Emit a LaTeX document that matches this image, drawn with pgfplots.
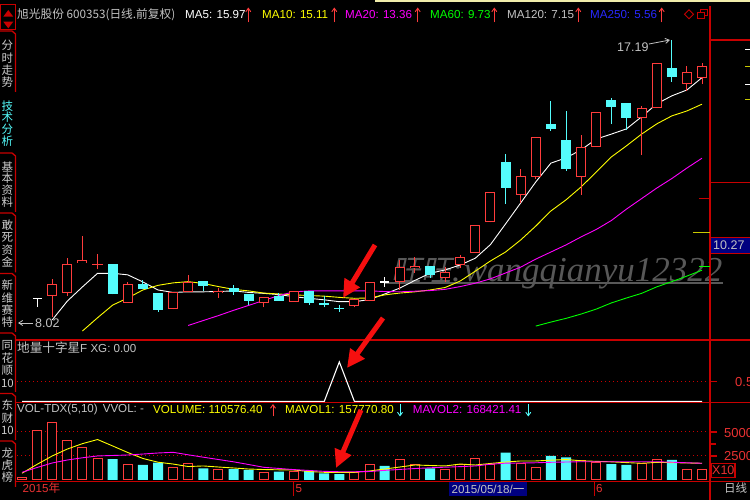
\documentclass[border=0pt]{standalone}
\usepackage{pgfplots}
\pgfplotsset{compat=1.18}
\usepackage{pgfplotstable}
\usepackage{fontspec}
\setmainfont{Liberation Sans}
\newfontfamily\cjk{Noto Sans CJK SC}
\newfontfamily\cjkslant[FakeSlant=0.22]{Noto Sans CJK SC}
\newfontfamily\wmserif{Liberation Serif}
\usetikzlibrary{arrows.meta}

\definecolor{cred}{RGB}{255,60,60}
\definecolor{cred2}{RGB}{235,50,50}
\definecolor{bred}{RGB}{200,0,0}
\definecolor{ared}{RGB}{245,15,15}
\definecolor{ccyan}{RGB}{84,252,252}
\definecolor{ltgray}{RGB}{195,195,195}
\definecolor{tabgray}{RGB}{205,205,205}
\definecolor{mayel}{RGB}{255,255,0}
\definecolor{dyel}{RGB}{200,200,0}
\definecolor{mamag}{RGB}{255,0,255}
\definecolor{magrn}{RGB}{0,255,0}
\definecolor{mablue}{RGB}{40,40,255}
\definecolor{navy}{RGB}{0,0,128}
\definecolor{wmgray}{RGB}{88,88,88}
\definecolor{paley}{RGB}{240,236,170}

% candles: index, open, high, low, close
\pgfplotstableread{
i o h l c
2 8.90 9.44 8.22 9.27
3 8.98 10.12 8.90 9.93
4 9.95 10.84 9.95 10.06
7 8.68 9.36 8.68 9.27
10 8.46 9.01 8.46 9.01
11 9.03 9.58 9.03 9.36
13 9.00 9.14 8.84 9.06
16 8.66 8.87 8.53 8.87
18 8.71 9.07 8.71 9.07
22 8.57 8.79 8.53 8.79
23 8.73 9.36 8.73 9.36
25 9.36 10.06 9.09 9.83
26 9.79 10.15 9.65 9.88
28 9.49 9.82 9.36 9.68
29 9.90 10.22 9.80 10.15
30 10.28 11.20 10.28 11.20
31 11.28 12.27 11.28 12.27
33 12.17 13.00 11.90 12.78
34 12.74 14.04 12.69 14.04
37 12.76 14.11 12.17 13.71
38 13.73 14.85 13.73 14.85
41 14.65 15.05 13.46 14.98
42 15.00 16.44 15.00 16.44
44 15.76 16.35 15.55 16.14
45 15.95 16.44 15.76 16.35
}\redT

\pgfplotstableread{
i o h l c
5 9.92 10.25 9.76 9.92
}\redD

\pgfplotstableread{
i o h l c
6 9.93 9.93 8.95 8.95
8 9.28 9.41 9.12 9.12
9 8.98 8.98 8.39 8.44
12 9.38 9.38 9.07 9.23
14 9.14 9.25 8.93 9.01
15 8.96 8.96 8.60 8.74
17 8.90 9.00 8.74 8.74
19 9.07 9.07 8.60 8.66
20 8.64 8.90 8.53 8.64
21 8.50 8.60 8.39 8.50
27 9.87 9.87 9.48 9.58
32 13.23 13.50 11.88 12.38
35 14.47 15.21 14.25 14.32
36 13.95 14.89 12.96 13.00
39 15.25 15.30 14.46 15.03
40 15.16 15.16 14.27 14.65
43 16.27 17.19 15.84 15.98
}\cyanT

\pgfplotstableread{
i o h l c
1 8.82 8.82 8.54 8.82
24 9.36 9.52 9.20 9.36
}\whiteT

\pgfplotstableread{
i ma5 ma10 ma20 ma60
2 8.12 nan nan nan
3 8.73 nan nan nan
4 9.19 7.76 nan nan
5 9.63 8.19 nan nan
6 9.63 8.60 nan nan
7 9.58 8.83 nan nan
8 9.35 9.09 nan nan
9 9.09 9.24 nan nan
10 9.01 9.32 nan nan
11 9.03 9.36 7.94 nan
12 9.03 9.30 8.10 nan
13 9.04 9.20 8.26 nan
14 9.06 9.11 8.43 nan
15 9.01 9.06 8.59 nan
16 8.98 8.99 8.75 nan
17 8.94 8.96 8.91 nan
18 8.87 8.93 9.03 nan
19 8.82 8.91 9.06 nan
20 8.77 8.89 9.06 nan
21 8.71 8.85 9.06 nan
22 8.71 8.82 9.06 nan
23 8.78 8.83 9.06 nan
24 8.96 8.93 9.04 nan
25 9.15 8.99 9.03 nan
26 9.40 9.03 9.05 nan
27 9.63 9.09 9.07 nan
28 9.74 9.17 9.11 nan
29 9.90 9.38 9.20 nan
30 10.12 9.70 9.31 nan
31 10.56 10.03 9.45 nan
32 11.23 10.32 9.64 nan
33 11.91 10.71 9.83 nan
34 12.59 11.16 10.09 7.92
35 13.20 11.65 10.32 8.05
36 13.37 12.01 10.55 8.17
37 13.63 12.43 10.81 8.31
38 13.98 12.91 11.05 8.47
39 14.14 13.40 11.34 8.67
40 14.31 13.76 11.71 8.83
41 14.70 14.14 12.05 8.98
42 15.12 14.47 12.39 9.19
43 15.38 14.73 12.70 9.36
44 15.57 14.89 13.04 9.54
45 15.97 15.11 13.36 9.73
}\maT

\pgfplotstableread{
i v
0 280
1 5200
2 6000
3 4090
4 3400
5 2260
7 1560
10 1320
11 1740
13 1110
16 800
18 860
22 760
23 1630
25 2080
26 1660
28 1040
29 1630
30 2260
31 1560
33 1740
34 1320
37 2010
38 1800
41 1740
42 2080
44 1110
45 1110
}\volR

\pgfplotstableread{
i v
6 2180
8 1560
9 1800
12 1220
14 1140
15 1040
17 860
19 940
20 700
21 620
24 1460
27 1220
32 2840
35 2500
36 2360
39 1660
40 1560
43 2080
}\volC

\pgfplotstableread{
i m1 m2
0 700 800
1 1630 1300
2 2500 1770
3 3220 2080
4 3780 2310
5 4210 2500
6 3540 2550
7 2860 2600
8 2240 2700
9 1850 2810
10 1660 2880
11 1400 2620
12 1460 2370
13 1350 2130
14 1250 1890
15 1140 1610
16 1090 1320
17 1060 1200
18 1040 1080
19 880 990
20 800 900
21 800 860
22 800 860
23 940 880
24 1140 1000
25 1350 1100
26 1560 1190
27 1510 1270
28 1460 1330
29 1660 1390
30 1560 1460
31 1720 1640
32 1870 1750
33 1980 1770
34 1980 1790
35 2060 1840
36 2130 1870
37 2000 1900
38 1940 1900
39 1890 1900
40 1810 1900
41 1740 1900
42 1830 1900
43 1810 1850
44 1770 1790
45 1740 1740
}\mavT

\pgfplotsset{
 wick/.style={draw=none, mark=none, forget plot, error bars/.cd, y dir=plus, y explicit, error mark=none, error bar style={draw=#1, line width=1pt, solid}},
 body/.style 2 args={draw=none, mark=none, forget plot, error bars/.cd, y dir=both, y explicit, error mark=none, error bar style={draw=#1, line width=#2, solid}},
 panel/.style={anchor=south west, scale only axis, width=693pt, xmin=-0.331, xmax=45.53, hide axis},
}

\begin{document}
\begin{tikzpicture}
\useasboundingbox (0,0) rectangle (750pt,500pt);
\clip (0,0) rectangle (750pt,500pt);
\fill[black] (0,0) rectangle (750pt,500pt);

% watermark (behind everything)
\begin{scope}[x=1pt,y=-1pt,shift={(0pt,500pt)}]
 \node[anchor=base west, inner sep=0pt, text=wmgray, font=\wmserif\itshape\fontsize{35}{38}\selectfont] at (391,281.7) {{\cjkslant\fontsize{30}{34}\selectfont 旺旺}:\hspace{1pt}wangqianyu12322};
 \draw[wmgray, line width=1.5pt] (385,283) -- (723,283);
\end{scope}

% ===== main price panel =====
\begin{axis}[panel, at={(17pt,160pt)}, height=322pt, ymin=7.469, ymax=17.903, unbounded coords=jump]
 \addplot[white, line width=0.9pt, mark=none] table[x=i,y=ma5] {\maT};
 \addplot[mayel, line width=0.9pt, mark=none] table[x=i,y=ma10] {\maT};
 \addplot[mamag, line width=0.9pt, mark=none] table[x=i,y=ma20] {\maT};
 \addplot[magrn, line width=0.9pt, mark=none] table[x=i,y=ma60] {\maT};
 % wicks
 \addplot[wick=cred] table[x=i,y=l,y error expr={\thisrow{h}-\thisrow{l}}] {\redT};
 \addplot[wick=cred] table[x=i,y=l,y error expr={\thisrow{h}-\thisrow{l}}] {\redD};
 \addplot[wick=ccyan] table[x=i,y=l,y error expr={\thisrow{h}-\thisrow{l}}] {\cyanT};
 \addplot[wick=white] table[x=i,y=l,y error expr={\thisrow{h}-\thisrow{l}}] {\whiteT};
 % bodies
 \addplot[body={cred}{10pt}] table[x=i,y expr={(\thisrow{o}+\thisrow{c})/2},y error expr={max(abs(\thisrow{c}-\thisrow{o})/2,0.016)}] {\redT};
 \addplot[body={black}{8pt}] table[x=i,y expr={(\thisrow{o}+\thisrow{c})/2},y error expr={abs(\thisrow{c}-\thisrow{o})/2-0.0324}] {\redT};
 \addplot[body={cred}{11pt}] table[x=i,y expr={(\thisrow{o}+\thisrow{c})/2},y error expr={max(abs(\thisrow{c}-\thisrow{o})/2,0.022)}] {\redD};
 \addplot[body={ccyan}{10pt}] table[x=i,y expr={(\thisrow{o}+\thisrow{c})/2},y error expr={max(abs(\thisrow{c}-\thisrow{o})/2,0.016)}] {\cyanT};
 \addplot[body={white}{9pt}] table[x=i,y expr={(\thisrow{o}+\thisrow{c})/2},y error expr={max(abs(\thisrow{c}-\thisrow{o})/2,0.02)}] {\whiteT};
\end{axis}

% ===== indicator panel =====
\begin{axis}[panel, at={(17pt,98pt)}, height=62pt, ymin=-0.0126, ymax=1.553]
 \addplot[bred, line width=1pt, dash pattern=on 1pt off 3pt, mark=none] coordinates {(-0.331,0.5) (45.53,0.5)};
 \addplot[white, line width=1.1pt, mark=none] coordinates {(0,0) (20,0) (21,1) (22,0) (45,0)};
\end{axis}

% ===== volume panel =====
\begin{axis}[panel, at={(17pt,18pt)}, height=80pt, ymin=-208, ymax=8112]
 \addplot[bred, line width=1pt, dash pattern=on 1pt off 3pt, mark=none] coordinates {(-0.331,2500) (45.53,2500)};
 \addplot[bred, line width=1pt, dash pattern=on 1pt off 3pt, mark=none] coordinates {(-0.331,5000) (45.53,5000)};
 \addplot[ybar, bar width=9pt, bar shift=0pt, draw=cred, fill=black, line width=1pt] table[x=i,y=v] {\volR};
 \addplot[ybar, bar width=10pt, bar shift=0pt, draw=none, fill=ccyan] table[x=i,y=v] {\volC};
 \addplot[mayel, line width=0.9pt, mark=none] table[x=i,y=m1] {\mavT};
 \addplot[mamag, line width=0.9pt, mark=none] table[x=i,y=m2] {\mavT};
\end{axis}

% ===== frame, labels, annotations =====
\begin{scope}[x=1pt,y=-1pt,shift={(0pt,500pt)},
  hdr/.style={anchor=west, inner sep=0pt, font=\fontsize{11.6}{13}\selectfont},
  tabtxt/.style={inner sep=0pt, text=tabgray, font=\cjk\fontsize{11.5}{12}\selectfont},
  uparr/.style={line width=0.9pt, -{Straight Barb[length=3.5pt,width=5pt]}}]
 % top strip
 \fill[paley] (375,0) rectangle (750,2);
 % panel lines
 \draw[bred, line width=1.2pt] (15.5,340) -- (750,340);
 \draw[bred, line width=1.2pt] (15.5,402.8) -- (750,402.8);
 \draw[bred, line width=1.2pt] (15.5,481.5) -- (750,481.5);
 \draw[bred, line width=1.2pt] (710,6) -- (710,500);
 \draw[bred, line width=1.2pt] (710,40) -- (750,40);
 \draw[bred, line width=1.2pt] (710,182.3) -- (750,182.3);
 % right-edge markers
 \draw[bred, line width=1.2pt] (699,198.3) -- (710,198.3);
 \draw[dyel, line width=1.2pt] (693,232.3) -- (710,232.3);
 \draw[magrn, line width=1.2pt] (699,266.7) -- (710,266.7);
 \draw[white, line width=1pt] (745,50) -- (750,50);
 \draw[dyel, line width=1pt] (745,66.7) -- (750,66.7);
 \draw[white, line width=1pt] (745,84.3) -- (750,84.3);
 \draw[dyel, line width=1pt] (745,100) -- (750,100);
 % 10.27 box
 \fill[navy] (710.6,237.3) rectangle (750,253.3);
 \draw[bred, line width=1.2pt] (710,237.3) -- (750,237.3);
 \draw[bred, line width=1.2pt] (710,253.3) -- (750,253.3);
 \node[anchor=west, inner sep=0pt, text=ltgray, font=\fontsize{12.5}{14}\selectfont] at (713,245.5) {10.27};
 % right scale labels (cut by the window edge, as in the screenshot)
 \draw[bred, line width=1.2pt] (710,381.7) -- (717,381.7);
 \node[anchor=west, inner sep=0pt, text=cred2, font=\fontsize{13}{14}\selectfont] at (735,381.7) {0.5};
 \draw[bred, line width=1.2pt] (710,432) -- (717,432);
 \draw[bred, line width=1.2pt] (710,444) -- (716,444);
 \draw[bred, line width=1.2pt] (710,456) -- (717,456);
 \node[anchor=west, inner sep=0pt, text=cred2, font=\fontsize{13}{14}\selectfont] at (724,433) {5000};
 \node[anchor=west, inner sep=0pt, text=cred2, font=\fontsize{13}{14}\selectfont] at (724,456) {2500};
 \draw[bred, line width=1.2pt] (711.5,463.3) rectangle (735,477.5);
 \node[inner sep=0pt, text=cred2, font=\fontsize{12.5}{14}\selectfont] at (723.3,470.5) {X10};
 % high / low marks
 \node[anchor=west, inner sep=0pt, text=ltgray, font=\fontsize{12.5}{14}\selectfont] at (617,47) {17.19};
 \draw[ltgray, line width=0.8pt, -{Straight Barb[length=4pt,width=5pt]}] (649,44) -- (670,40);
 \draw[ltgray, line width=0.8pt, -{Straight Barb[length=4pt,width=5pt]}] (33,323) -- (18,323);
 \node[anchor=west, inner sep=0pt, text=ltgray, font=\fontsize{12.5}{14}\selectfont] at (35,323) {8.02};
 % header
 \node[hdr, text=ltgray, font=\cjk\fontsize{11.7}{14}\selectfont] at (17,15) {旭光股份 600353(日线.前复权)};
 \node[hdr, text=white] at (185,15) {MA5: 15.97};
 \node[hdr, text=mayel] at (262,15) {MA10: 15.11};
 \node[hdr, text=mamag] at (345,15) {MA20: 13.36};
 \node[hdr, text=magrn] at (430,15) {MA60: 9.73};
 \node[hdr, text=ltgray] at (507,15) {MA120: 7.15};
 \node[hdr, text=mablue] at (590,15) {MA250: 5.56};
 \foreach \xx in {248.3,334.3,417.7,494.3,578.3,661.7} {\draw[uparr, draw=cred] (\xx,22.5) -- (\xx,7.5);}
 % top-left / top-right icons
 \draw[bred, line width=1pt] (0.5,4.5) rectangle (15,29.5);
 \fill[bred] (3.3,16.7) -- (13.3,16.7) -- (8.3,10) -- cycle;
 \fill[bred] (3.3,21.7) -- (13.3,21.7) -- (8.3,28.3) -- cycle;
 \draw[bred, line width=0.8pt] (689,9.7) -- (693.5,14.2) -- (689,18.7) -- (684.5,14.2) -- cycle;
 \draw[bred, line width=0.8pt] (697,12) rectangle (704,18.3);
 \draw[bred, line width=0.8pt] (700,9.3) -- (707,9.3) -- (707,15.5) -- (704,15.5);
 \draw[bred, line width=0.8pt] (700,9.3) -- (700,12);
 % indicator header
 \node[hdr, text=ltgray] at (17,347.5) {{\cjk\fontsize{12.6}{14}\selectfont 地量十字星}F XG: 0.00};
 % volume header
 \node[hdr, text=ltgray] at (17,410) {VOL-TDX(5,10)\hspace{5pt}VVOL: -};
 \node[hdr, text=mayel] at (153,410) {VOLUME: 110576.40};
 \draw[uparr, draw=cred] (273,416.5) -- (273,404);
 \node[hdr, text=mayel] at (285,410) {MAVOL1: 157770.80};
 \draw[uparr, draw=ccyan] (400,404) -- (400,416.5);
 \node[hdr, text=mamag] at (412.7,410) {MAVOL2: 168421.41};
 \draw[uparr, draw=ccyan] (528.3,404) -- (528.3,416.5);
 % bottom date row
 \node[anchor=west, inner sep=0pt, text=cred2, font=\fontsize{11.6}{13}\selectfont] at (22.5,488.5) {2015{\cjk 年}};
 \draw[bred, line width=1pt] (293.3,482) -- (293.3,496);
 \node[anchor=west, inner sep=0pt, text=cred2, font=\fontsize{11.6}{13}\selectfont] at (295.5,488.5) {5};
 \fill[navy] (449,481.8) rectangle (527,496);
 \node[inner sep=0pt, text=ltgray, font=\fontsize{11.6}{13}\selectfont] at (488,489) {2015/05/18/{\cjk 一}};
 \draw[bred, line width=1pt] (594,482) -- (594,496);
 \node[anchor=west, inner sep=0pt, text=cred2, font=\fontsize{11.6}{13}\selectfont] at (596,488.5) {6};
 \node[inner sep=0pt, text=ltgray, font=\cjk\fontsize{11.5}{13}\selectfont] at (735.5,488.5) {日线};
 % left tabs
 \foreach \ta/\tb in {31/92,153/212,213/272.5,273.5/332,333/392,393.5/440,441/487} {
   \draw[bred, line width=1.3pt] (0,\ta) -- (12,\ta) -- (15.5,\ta+3) -- (15.5,\tb);
 }
 \foreach \ch/\yy in {分/45,时/58,走/70,势/82,基/167,本/178,资/190,料/202,敢/225,死/237,资/250,金/262,新/285,维/298,赛/310,特/322,同/345,花/358,顺/370,10/383,东/405,财/418,10/430,龙/453,虎/465,榜/477} {
   \node[tabtxt] at (7.5,\yy) {\ch};
 }
 \foreach \ch/\yy in {技/106,术/117,分/129,析/141} {
   \node[tabtxt, text=ccyan] at (7.5,\yy) {\ch};
 }
 % red annotation arrows
 \draw[ared, line width=5pt, -{Triangle[length=18pt,width=17pt]}] (375,245) -- (343,298);
 \draw[ared, line width=5pt, -{Triangle[length=18pt,width=17pt]}] (383,318) -- (347,368);
 \draw[ared, line width=5pt, -{Triangle[length=18pt,width=17pt]}] (361,410) -- (336,468);
\end{scope}
\end{tikzpicture}
\end{document}
